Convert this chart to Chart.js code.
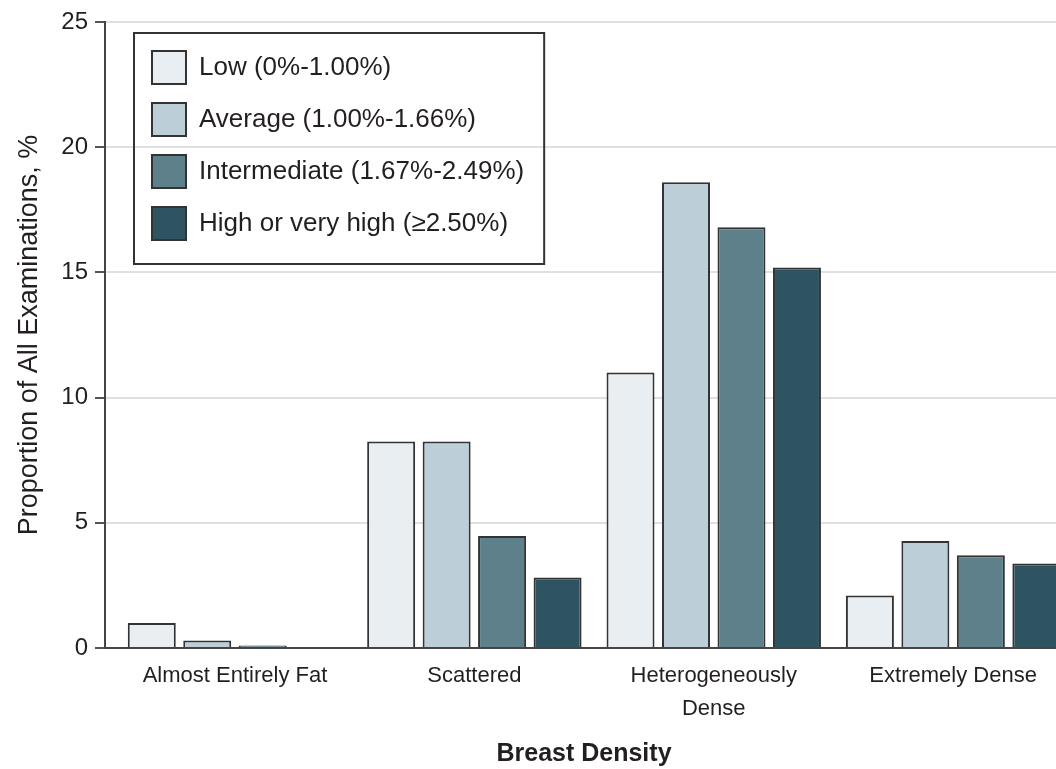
<!DOCTYPE html>
<html>
<head>
<meta charset="utf-8">
<script src="https://cdn.jsdelivr.net/npm/chart.js@4/dist/chart.umd.min.js"></script>
<style>
  html, body { margin: 0; padding: 0; overflow: hidden; background: #fff; }
  #wrap { position: relative; width: 1100px; height: 769px; }
</style>
</head>
<body>
<div id="wrap"><canvas id="c"></canvas></div>
<script>
// ---- data ----
const categories = ['Almost Entirely Fat', 'Scattered', ['Heterogeneously', 'Dense'], 'Extremely Dense'];
const seriesNames = ['Low (0%-1.00%)', 'Average (1.00%-1.66%)', 'Intermediate (1.67%-2.49%)', 'High or very high (\u22652.50%)'];
const lowValues = [1.0, 8.25, 11.0, 2.1];
const averageValues = [0.3, 8.25, 18.6, 4.27];
const intermediateValues = [0.1, 4.47, 16.8, 3.7];
const highValues = [0.0, 2.82, 15.2, 3.37];
const yTicks = [0, 5, 10, 15, 20, 25];

// ---- styles ----
const FONT = "'Liberation Sans', Arial, sans-serif";
const TEXT = '#231f20';
const colors = ['#e9eef2', '#bccfd8', '#5e808a', '#2e5361'];
const allSeries = [lowValues, averageValues, intermediateValues, highValues];

const datasets = allSeries.map((vals, i) => ({
  label: seriesNames[i],
  data: vals.map((v, k) => ({ x: k, y: v })),
  backgroundColor: colors[i],
  borderColor: '#333333',
  borderWidth: 2,
  categoryPercentage: 0.927,
  barPercentage: 0.865
}));

const LEG_PAD = 19;
const legendFrame = {
  id: 'legendFrame',
  afterLayout(chart) {
    const lg = chart.legend, ca = chart.chartArea;
    const w = lg.width, h = lg.height;
    lg.left = ca.left + 28; lg.top = ca.top + 10;
    lg.right = lg.left + w; lg.bottom = lg.top + h;
  },
  afterDraw(chart) {
    const lg = chart.legend;
    const ctx = chart.ctx;
    const lo = chart.options.plugins.legend.labels;
    ctx.save();
    ctx.font = lo.font.size + 'px ' + FONT;
    let maxW = 0;
    seriesNames.forEach(s => { maxW = Math.max(maxW, ctx.measureText(s).width); });
    const n = seriesNames.length;
    const itemH = Math.max(lo.font.size, lo.boxHeight);
    const x0 = lg.left + LEG_PAD - 18;
    const y0 = lg.top + LEG_PAD - 18;
    const x1 = lg.left + LEG_PAD + lo.boxWidth + lo.font.size / 2 + maxW + 20;
    const y1 = lg.top + LEG_PAD + (n - 1) * (itemH + LEG_PAD) + lo.boxHeight + 24;
    ctx.strokeStyle = '#333';
    ctx.lineWidth = 2;
    ctx.strokeRect(x0, y0, x1 - x0, y1 - y0);
    ctx.restore();
  }
};

new Chart(document.getElementById('c'), {
  type: 'bar',
  data: { datasets },
  plugins: [legendFrame],
  options: {
    responsive: true,
    maintainAspectRatio: false,
    animation: false,
    layout: { padding: { top: 22, right: 37, bottom: 0, left: 0 } },
    plugins: {
      tooltip: { enabled: false },
      legend: {
        position: 'chartArea',
        align: 'start',
        labels: {
          boxWidth: 34,
          boxHeight: 33,
          padding: LEG_PAD,
          color: TEXT,
          font: { family: FONT, size: 26 }
        }
      }
    },
    scales: {
      x: {
        type: 'linear',
        offset: false,
        min: -0.543,
        max: 3.459,
        afterFit: (s) => { s.height = 121; },
        grid: { display: false, drawTicks: false },
        border: { display: true, color: '#444', width: 2 },
        ticks: {
          stepSize: 1,
          includeBounds: false,
          autoSkip: false,
          maxRotation: 0,
          padding: 11,
          color: TEXT,
          font: { family: FONT, size: 22, lineHeight: 1.5 },
          callback: (v) => Number.isInteger(v) && categories[v] !== undefined ? categories[v] : ''
        },
        title: {
          display: true,
          text: 'Breast Density',
          color: TEXT,
          padding: { top: 0, bottom: 0 },
          font: { family: FONT, size: 25, weight: 'bold' }
        }
      },
      y: {
        min: yTicks[0],
        max: yTicks[yTicks.length - 1],
        afterFit: (s) => { s.width = 105; },
        grid: { color: '#e0e0e0', lineWidth: 2, drawTicks: true, tickLength: 10, tickColor: '#555', tickWidth: 2 },
        border: { display: true, color: '#444', width: 2 },
        afterBuildTicks: (s) => { s.ticks = yTicks.map(v => ({ value: v })); },
        ticks: {
          padding: 7,
          color: TEXT,
          font: { family: FONT, size: 24 }
        },
        title: {
          display: true,
          text: 'Proportion of All Examinations, %',
          color: TEXT,
          padding: { top: 13, bottom: 0 },
          font: { family: FONT, size: 27 }
        }
      }
    }
  }
});
</script>
</body>
</html>
